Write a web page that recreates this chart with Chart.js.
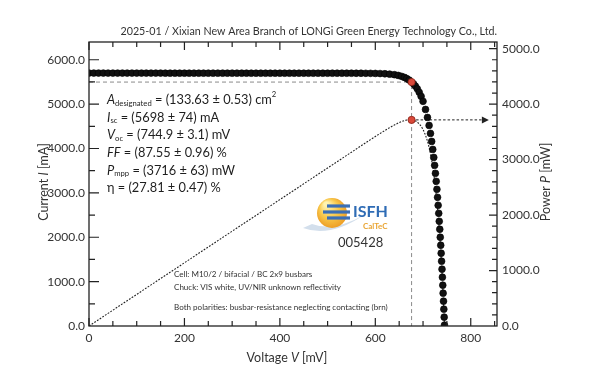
<!DOCTYPE html>
<html><head><meta charset="utf-8">
<script src="https://cdn.jsdelivr.net/npm/chart.js@4.4.1/dist/chart.umd.min.js"></script>
<style>html,body{margin:0;padding:0;background:#fff}canvas{display:block}</style>
</head><body>
<canvas id="c" width="604" height="377" style="width:604px;height:377px"></canvas>
<script>
// ---- data ----
const voltage = [0,10,20,30,40,50,60,70,80,90,100,110,120,130,140,150,160,170,180,190,200,210,220,230,240,250,260,270,280,290,300,310,320,330,340,350,360,370,380,390,400,410,420,430,440,450,460,470,480,490,500,510,520,530,540,550,560,570,580,590,600,610,620,630,640,648,655,661,666,671,680,684,688,692,696,700,705.2,709.3,712.7,715.6,718.1,720.4,722.5,724.3,726.0,727.6,729.1,730.4,731.7,732.9,734.0,735.1,736.1,737.1,738.0,738.9,739.8,740.6,741.4,742.1,742.9,743.6,744.3,744.9];
const current = [5700,5700,5700,5700,5699,5699,5699,5699,5699,5699,5699,5699,5699,5699,5699,5699,5698,5698,5698,5698,5698,5698,5698,5698,5698,5698,5698,5698,5698,5698,5698,5698,5698,5698,5697,5697,5697,5697,5697,5697,5697,5697,5697,5697,5697,5697,5697,5697,5697,5697,5697,5697,5697,5697,5697,5697,5696,5696,5695,5694,5692,5689,5684,5676,5663,5647,5626,5602,5576,5543,5458,5406,5344,5267,5175,5063,4880,4700,4520,4340,4160,3980,3800,3620,3440,3260,3080,2900,2720,2540,2360,2180,2000,1820,1640,1460,1280,1100,920,740,560,380,200,20];
const mppVoltage = [676];
const mppCurrent = [5497];
const mppPower = [3716];
const xTicks = [0,200,400,600,800];
const leftTicks = [0,1000,2000,3000,4000,5000,6000];
const rightTicks = [0,1000,2000,3000,4000,5000];
const titleText = "2025-01 / Xixian New Area Branch of LONGi Green Energy Technology Co., Ltd.";
const notes = ["Cell: M10/2 / bifacial / BC 2x9 busbars","Chuck: VIS white, UV/NIR unknown reflectivity","Both polarities: busbar-resistance neglecting contacting (brn)"];
const cellId = "005428";

const FAM = "Lato, 'Open Sans', sans-serif";
const ivPoints = voltage.map((v,i)=>({x:v,y:current[i]}));
const pPoints = voltage.map((v,i)=>({x:v,y:v*current[i]/1000}));
pPoints.push({x:745,y:0});

function rich(ctx,x,y,segs,size){
  let cx=x;
  for(const s of segs){
    let sz=size, dy=0;
    if(s.sub){sz=size*0.6;dy=size*0.25;}
    if(s.sup){sz=size*0.6;dy=-size*0.42;}
    ctx.font=(s.i?'italic ':'')+sz+'px '+FAM;
    ctx.fillText(s.t,cx,y+dy);
    cx+=ctx.measureText(s.t).width;
  }
  return cx-x;
}
function richWidth(ctx,segs,size){
  let w=0;
  for(const s of segs){let sz=(s.sub||s.sup)?size*0.6:size;ctx.font=(s.i?'italic ':'')+sz+'px '+FAM;w+=ctx.measureText(s.t).width;}
  return w;
}
function fitFont(ctx,text,target){
  ctx.font='20px '+FAM;
  return 20*target/ctx.measureText(text).width;
}

const deco = {
  id:'deco',
  beforeDatasetsDraw(chart){
    const ctx=chart.ctx, xs=chart.scales.x, ys=chart.scales.y, y1=chart.scales.y1;
    const px=xs.getPixelForValue(mppVoltage[0]), py=ys.getPixelForValue(mppCurrent[0]);
    ctx.save();
    ctx.strokeStyle='#8a8a8a'; ctx.lineWidth=1; ctx.setLineDash([4,3]);
    ctx.beginPath(); ctx.moveTo(xs.left,py); ctx.lineTo(px,py); ctx.stroke();
    ctx.beginPath(); ctx.moveTo(px,py-4); ctx.lineTo(px,ys.bottom); ctx.stroke();
    const vx=xs.getPixelForValue(745);
    ctx.beginPath(); ctx.moveTo(vx,ys.bottom); ctx.lineTo(vx,ys.bottom-10); ctx.stroke();
    const ppy=y1.getPixelForValue(mppPower[0]);
    const ax=xs.getPixelForValue(838);
    ctx.strokeStyle='#222'; ctx.setLineDash([2.5,2]);
    ctx.beginPath(); ctx.moveTo(px,ppy); ctx.lineTo(ax-5,ppy); ctx.stroke();
    ctx.setLineDash([]); ctx.fillStyle='#222';
    ctx.beginPath(); ctx.moveTo(ax,ppy); ctx.lineTo(ax-7,ppy-3.5); ctx.lineTo(ax-7,ppy+3.5); ctx.closePath(); ctx.fill();
    ctx.restore();
  },
  afterDraw(chart){
    const ctx=chart.ctx, xs=chart.scales.x, ys=chart.scales.y, y1=chart.scales.y1;
    const L=xs.left,R=xs.right,T=ys.top,B=ys.bottom;
    ctx.save();
    ctx.strokeStyle='#222'; ctx.lineWidth=1.3; ctx.setLineDash([]);
    ctx.strokeRect(L,T,R-L,B-T);
    ctx.lineWidth=1.2;
    ctx.beginPath();
    for(let v=0; v<=850; v+=50){
      const x=xs.getPixelForValue(v); const len=(v%200===0)?8:5;
      ctx.moveTo(x,B); ctx.lineTo(x,B-len);
      ctx.moveTo(x,T); ctx.lineTo(x,T+len);
    }
    for(let v=500; v<6400; v+=500){
      const y=ys.getPixelForValue(v); const len=(v%1000===0)?10:6;
      ctx.moveTo(L,y); ctx.lineTo(L+len,y);
    }
    for(let v=200; v<5120; v+=200){
      const y=y1.getPixelForValue(v); const len=(v%1000===0)?8:5;
      ctx.moveTo(R,y); ctx.lineTo(R-len,y);
    }
    ctx.stroke();
    ctx.fillStyle='#333'; ctx.textBaseline='middle'; ctx.textAlign='right';
    const ts=fitFont(ctx,"New Area Branch of LONGi Green Energy Technology Co., Ltd.",294);
    ctx.font=ts+'px '+FAM; ctx.fillText(titleText,R,32);
    ctx.textAlign='left';
    const ats=12.5;
    ctx.save(); ctx.translate(44,182); ctx.rotate(-Math.PI/2);
    let segs=[{t:'Current '},{t:'I',i:1},{t:' [mA]'}];
    rich(ctx,-richWidth(ctx,segs,ats)/2,0,segs,ats); ctx.restore();
    ctx.save(); ctx.translate(546,182); ctx.rotate(-Math.PI/2);
    segs=[{t:'Power '},{t:'P',i:1},{t:' [mW]'}];
    rich(ctx,-richWidth(ctx,segs,ats)/2,0,segs,ats); ctx.restore();
    segs=[{t:'Voltage '},{t:'V',i:1},{t:' [mV]'}];
    rich(ctx,287-richWidth(ctx,segs,ats)/2,358,segs,ats);
    ctx.fillStyle='#1e1e1e';
    const ps=12.8, lx=107;
    const lines=[
      [{t:'A',i:1},{t:'designated',sub:1},{t:' = (133.63 \u00b1 0.53) cm'},{t:'2',sup:1}],
      [{t:'I',i:1},{t:'sc',sub:1},{t:' = (5698 \u00b1 74) mA'}],
      [{t:'V',i:1},{t:'oc',sub:1},{t:' = (744.9 \u00b1 3.1) mV'}],
      [{t:'FF',i:1},{t:' = (87.55 \u00b1 0.96) %'}],
      [{t:'P',i:1},{t:'mpp',sub:1},{t:' = (3716 \u00b1 63) mW'}],
      [{t:'\u03b7 = (27.81 \u00b1 0.47) %'}]
    ];
    lines.forEach((l,k)=>rich(ctx,lx,100+k*17.6,l,ps));
    ctx.fillStyle='#333';
    const ns=fitFont(ctx,notes[2],214);
    ctx.font=ns+'px '+FAM;
    ctx.fillText(notes[0],174,274); ctx.fillText(notes[1],174,287); ctx.fillText(notes[2],174,307);
    // logo
    ctx.fillStyle='#d3dfec';
    ctx.beginPath(); ctx.moveTo(303,228); ctx.quadraticCurveTo(330,238,364,215); ctx.quadraticCurveTo(334,232,312,224); ctx.closePath(); ctx.fill();
    const g=ctx.createRadialGradient(326,204,2,332,213,17);
    g.addColorStop(0,'#fff3b0'); g.addColorStop(0.5,'#f8c84a'); g.addColorStop(1,'#eb961f');
    ctx.fillStyle=g; ctx.beginPath(); ctx.arc(332,213,15,0,Math.PI*2); ctx.fill();
    ctx.fillStyle='#3b6fb6';
    [[327,206,23],[323,212,27],[327,218,23]].forEach(([x,y,w])=>{ctx.fillRect(x,y-1.6,w,3.2);});
    ctx.font='bold 16px '+FAM; ctx.fillStyle='#2f6cb5'; ctx.fillText('ISFH',353,212);
    ctx.font='bold 8px '+FAM; ctx.fillStyle='#e9a534'; ctx.fillText('CalTeC',363,226);
    ctx.font='13px '+FAM; ctx.fillStyle='#333'; ctx.fillText(cellId,338,243);
    ctx.restore();
  }
};

const tickFont={family:FAM,size:12};
new Chart(document.getElementById('c'),{
  type:'scatter',
  data:{datasets:[
    {data:mppVoltage.map((v,i)=>({x:v,y:mppCurrent[i]})),yAxisID:'y',pointRadius:3.6,pointBackgroundColor:'#d9493a',pointBorderColor:'#8a1f14',pointBorderWidth:0.8,showLine:false},
    {data:mppVoltage.map((v,i)=>({x:v,y:mppPower[i]})),yAxisID:'y1',pointRadius:3.6,pointBackgroundColor:'#d9493a',pointBorderColor:'#8a1f14',pointBorderWidth:0.8,showLine:false},
    {data:ivPoints,yAxisID:'y',pointRadius:3.4,pointBackgroundColor:'#111',pointBorderColor:'#000',pointBorderWidth:0.6,showLine:false},
    {data:pPoints,yAxisID:'y1',showLine:true,pointRadius:0,borderColor:'#222',borderWidth:1.1,borderDash:[1.8,1.4],fill:false}
  ]},
  options:{
    responsive:false,animation:false,
    layout:{padding:{top:42,left:0,right:0,bottom:0}},
    plugins:{legend:{display:false},tooltip:{enabled:false},title:{display:false}},
    scales:{
      x:{type:'linear',min:0,max:855,afterBuildTicks:s=>{s.ticks=xTicks.map(v=>({value:v}));},
         ticks:{font:tickFont,color:'#333',padding:5,autoSkip:false,maxRotation:0,callback:v=>String(v)},
         grid:{display:false,drawTicks:false},border:{display:false},afterFit:s=>{s.height=51;}},
      y:{position:'left',min:0,max:6400,afterBuildTicks:s=>{s.ticks=leftTicks.map(v=>({value:v}));},
         ticks:{font:tickFont,color:'#333',padding:4,autoSkip:false,callback:v=>Number(v).toFixed(1)},
         grid:{display:false,drawTicks:false},border:{display:false},afterFit:s=>{s.width=89;}},
      y1:{position:'right',min:0,max:5120,afterBuildTicks:s=>{s.ticks=rightTicks.map(v=>({value:v}));},
         ticks:{font:tickFont,color:'#333',padding:5,autoSkip:false,callback:v=>Number(v).toFixed(1)},
         grid:{display:false,drawTicks:false},border:{display:false},afterFit:s=>{s.width=107;}}
    }
  },
  plugins:[deco]
});
</script>
</body></html>
